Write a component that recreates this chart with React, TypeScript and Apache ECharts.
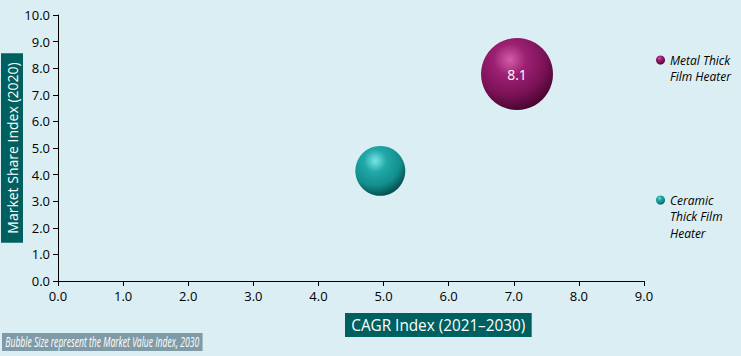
import React, { useEffect, useRef } from "react";
import * as echarts from "echarts";

const seriesNames = ["Metal Thick Film Heater", "Ceramic Thick Film Heater"];
const legendLines = [["Metal Thick", "Film Heater"], ["Ceramic", "Thick Film", "Heater"]];
const cagrIndex = [7.05, 4.95];
const shareIndex = [7.78, 4.14];
const marketValue = [8.1, 3.9];
const showValue = [true, false];
const xTicks = [0, 9, 1];
const yTicks = [0, 10, 1];

const palettes = [
  ["#d35ea8", "#9c2072", "#7a1257", "#4a0632", "#661048"],
  ["#7ae6e6", "#22a8a8", "#128e8e", "#05504f", "#0e7474"],
];

function grad(p: string[]) {
  return new echarts.graphic.RadialGradient(0.4, 0.3, 0.8, [
    { offset: 0, color: p[0] },
    { offset: 0.28, color: p[1] },
    { offset: 0.62, color: p[2] },
    { offset: 0.88, color: p[3] },
    { offset: 1, color: p[4] },
  ]);
}

export default function App() {
  const ref = useRef<HTMLDivElement>(null);
  useEffect(() => {
    if (!ref.current) return;
    const chart = echarts.init(ref.current, null, { renderer: "svg" });
    const font = "Open Sans";
    const series = seriesNames.map((name, i) => ({
      name,
      type: "scatter",
      data: [
        {
          value: [cagrIndex[i], shareIndex[i], marketValue[i]],
          label: {
            show: showValue[i],
            position: "inside",
            formatter: (p: any) => p.value[2].toFixed(1),
            color: "#ffffff",
            fontSize: 14,
            fontFamily: font,
          },
        },
      ],
      symbolSize: (v: number[]) => Math.sqrt(v[2]) * 25.3,
      itemStyle: { color: grad(palettes[i]), opacity: 1 },
      emphasis: { disabled: true },
    }));
    const lh = 16.5;
    const firstLineY = [60, 200];
    chart.setOption({
      animation: false,
      backgroundColor: "#dbeef3",
      textStyle: { fontFamily: font },
      grid: { left: 58, right: 97, top: 15, bottom: 75, outerBoundsMode: "none", containLabel: false },
      xAxis: {
        type: "value",
        min: xTicks[0],
        max: xTicks[1],
        interval: xTicks[2],
        axisLine: { show: true, lineStyle: { color: "#000", width: 1 } },
        axisTick: { show: true, lineStyle: { color: "#000" }, length: 5 },
        splitLine: { show: false },
        axisLabel: {
          formatter: (v: number) => v.toFixed(1),
          color: "#000",
          fontSize: 13,
          margin: 8,
          fontFamily: font,
        },
      },
      yAxis: {
        type: "value",
        min: yTicks[0],
        max: yTicks[1],
        interval: yTicks[2],
        name: "Market Share Index (2020)",
        nameLocation: "middle",
        nameGap: 35,
        nameMoveOverlap: false,
        nameTextStyle: {
          color: "#fff",
          backgroundColor: "#00605f",
          fontSize: 14,
          lineHeight: 18,
          padding: [2, 9, 2, 9],
          fontFamily: font,
        },
        axisLine: { show: true, lineStyle: { color: "#000", width: 1 } },
        axisTick: { show: true, lineStyle: { color: "#000" }, length: 5 },
        splitLine: { show: false },
        axisLabel: {
          formatter: (v: number) => v.toFixed(1),
          color: "#000",
          fontSize: 13,
          margin: 8,
          fontFamily: font,
        },
      },
      legend: seriesNames.map((n, i) => {
        const k = legendLines[i].length - 1;
        const pad: string[] = [];
        for (let j = 0; j < k; j++) pad.push(" ");
        return {
          data: [{ name: n, itemStyle: { color: grad(palettes[i]) } }],
          left: 656,
          top: firstLineY[i] - k * lh - lh / 2,
          icon: "circle",
          itemWidth: 9,
          itemHeight: 9,
          itemGap: 4,
          padding: 0,
          selectedMode: false,
          formatter: () => pad.concat(legendLines[i]).join("\n"),
          textStyle: {
            fontStyle: "italic",
            fontSize: 12,
            color: "#000",
            lineHeight: lh,
            fontFamily: font,
          },
        };
      }),
      graphic: [
        {
          type: "text",
          left: 345,
          top: 313,
          scaleX: 0.9,
          style: {
            text: "CAGR Index (2021–2030)",
            fill: "#fff",
            backgroundColor: "#00605f",
            fontSize: 17,
            fontFamily: font,
            padding: [3, 7, 4, 7],
          },
        },
        {
          type: "text",
          left: 2,
          top: 333,
          scaleX: 0.66,
          scaleY: 1.06,
          style: {
            text: "Bubble Size represent the Market Value Index, 2030",
            fill: "#fff",
            backgroundColor: "#7f9ba7",
            fontSize: 13,
            fontStyle: "italic",
            fontFamily: font,
            padding: [2, 5, 2, 5],
          },
        },
      ],
      series,
    });
    return () => chart.dispose();
  }, []);
  return <div ref={ref} style={{ width: 741, height: 356, position: "absolute", left: 0, top: 0 }} />;
}
